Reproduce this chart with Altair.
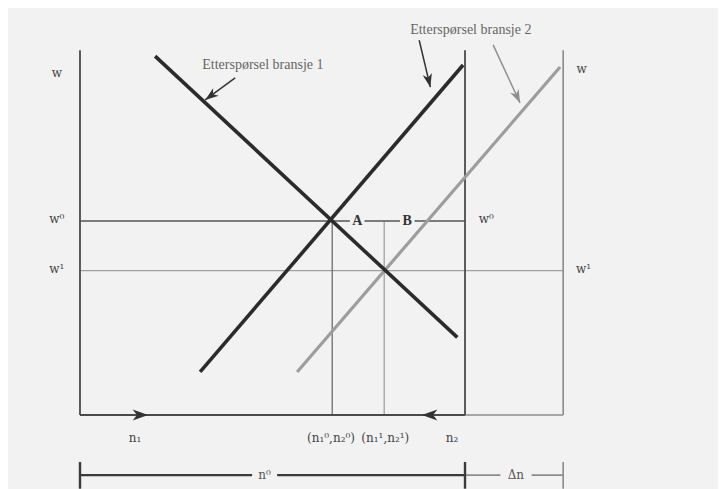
import math
import altair as alt
import pandas as pd

# ---- diagram values (n = employment, w = wage) ----
N0 = 100.0          # total labour n0 (middle vertical line)
N_RIGHT = 125.5     # n0 + delta n (right axis)
W_TOP = 94.0
W0 = 50.0
W1 = 37.2
N_EQ0 = 65.5        # (n1^0, n2^0)
N_EQ1 = 79.0        # (n1^1, n2^1)
BRACKET_W = -15.5

demand1_n = [19.5, 98.0]
demand1_w = [92.5, 20.0]
supply1_n = [31.2, 99.5]
supply1_w = [11.1, 90.2]
supply2_n = [56.4, 124.7]
supply2_w = [11.1, 89.7]

# label texts and positions
main_labels = ["w", "w⁰", "w¹", "w⁰", "w¹", "w", "n₁", "(n₁⁰,n₂⁰)", "(n₁¹,n₂¹)", "n₂"]
main_label_n = [-6.0, -6.0, -6.0, 105.5, 130.8, 130.3, 14.3, 65.2, 79.3, 96.6]
main_label_w = [88.2, 50.6, 37.6, 50.6, 37.6, 89.3, -5.9, -5.9, -5.9, -5.9]

point_labels = ["A", "B"]
point_label_n = [72.0, 85.0]
point_label_w = [W0, W0]

bracket_labels = ["n⁰", "Δn"]
bracket_label_n = [47.9, 113.2]
bracket_label_w = [BRACKET_W, BRACKET_W]

note_labels = ["Etterspørsel bransje 1", "Etterspørsel bransje 2"]
note_label_n = [47.5, 101.5]
note_label_w = [90.3, 99.3]

# annotation arrows: start -> end
arrow_n1 = [40.3, 88.1]
arrow_w1 = [86.9, 96.6]
arrow_n2 = [32.5, 91.0]
arrow_w2 = [81.2, 84.5]
garrow_n1 = [107.3]
garrow_w1 = [95.4]
garrow_n2 = [114.3]
garrow_w2 = [80.4]

# ---- scales ----
PX_N = 3.85
PX_W = 3.88
xs = alt.Scale(domain=[-18.70, 165.71], nice=False, zero=False)
ys = alt.Scale(domain=[-17.01, 104.90], nice=False, zero=False)


def seg(rows):
    return pd.DataFrame(rows, columns=["x1", "y1", "x2", "y2"])


def rules(df, color, width, opacity=1.0):
    return alt.Chart(df).mark_rule(color=color, strokeWidth=width, opacity=opacity).encode(
        x=alt.X("x1:Q", scale=xs, axis=None),
        y=alt.Y("y1:Q", scale=ys, axis=None),
        x2="x2:Q",
        y2="y2:Q",
    )


thick_dark = seg([
    [demand1_n[0], demand1_w[0], demand1_n[1], demand1_w[1]],
    [supply1_n[0], supply1_w[0], supply1_n[1], supply1_w[1]],
])
thick_gray = seg([[supply2_n[0], supply2_w[0], supply2_n[1], supply2_w[1]]])

axes_dark = seg([
    [0, 0, 0, W_TOP],
    [0, 0, N0, 0],
    [N0, 0, N0, W_TOP],
])
w0_lines = seg([
    [0, W0, 70.1, W0],
    [73.9, W0, 83.1, W0],
    [86.9, W0, N0, W0],
])
eq0_line = seg([[N_EQ0, 0, N_EQ0, W0]])
gray_axes = seg([
    [N_RIGHT, 0, N_RIGHT, W_TOP],
    [N0, 0, N_RIGHT, 0],
])
w1_line = seg([[0, W1, N_RIGHT, W1]])
eq1_line = seg([[N_EQ1, 0, N_EQ1, W0]])

bracket_dark = seg([
    [0, BRACKET_W, 44.7, BRACKET_W],
    [51.2, BRACKET_W, N0, BRACKET_W],
    [0, -12.1, 0, -19.0],
    [N0, -12.1, N0, -19.0],
])
bracket_gray = seg([
    [N0, BRACKET_W, 109.2, BRACKET_W],
    [117.3, BRACKET_W, N_RIGHT, BRACKET_W],
    [N_RIGHT, -12.1, N_RIGHT, -19.0],
])

arrow_lines = seg([[a, b, c, d] for a, b, c, d in zip(arrow_n1, arrow_w1, arrow_n2, arrow_w2)])
garrow_lines = seg([[a, b, c, d] for a, b, c, d in zip(garrow_n1, garrow_w1, garrow_n2, garrow_w2)])


def heads(n1, w1, n2, w2):
    ang = [
        (math.degrees(math.atan2((c - a) * PX_N, (d - b) * PX_W)) + 360) % 360
        for a, b, c, d in zip(n1, w1, n2, w2)
    ]
    return pd.DataFrame({"x": n2, "y": w2, "angle": ang})


BARB = "M0,0L-0.7,2L0,1.45L0.7,2Z"


def head_layer(df, color, size):
    return alt.Chart(df).mark_point(shape=BARB, filled=True, color=color, opacity=1, size=size).encode(
        x=alt.X("x:Q", scale=xs, axis=None),
        y=alt.Y("y:Q", scale=ys, axis=None),
        angle=alt.Angle("angle:Q", scale=None),
    )


flow_heads = pd.DataFrame({"x": [17.7, 88.8], "y": [0.0, 0.0], "angle": [90, 270]})


def text_layer(labels, ns, ws, size, color, weight="normal", font="Liberation Serif"):
    df = pd.DataFrame({"t": labels, "x": ns, "y": ws})
    return alt.Chart(df).mark_text(
        font=font, fontSize=size, color=color, fontWeight=weight, align="center", baseline="middle"
    ).encode(
        x=alt.X("x:Q", scale=xs, axis=None),
        y=alt.Y("y:Q", scale=ys, axis=None),
        text="t:N",
    )


chart = alt.layer(
    rules(w1_line, "#a0a0a0", 1.3),
    rules(eq1_line, "#8a8a8a", 1.0),
    rules(gray_axes, "#8c8c8c", 1.6),
    rules(bracket_gray, "#8c8c8c", 1.6),
    rules(w0_lines, "#555555", 1.6),
    rules(eq0_line, "#555555", 1.1),
    rules(axes_dark, "#4a4a4a", 1.8),
    rules(bracket_dark, "#3a3a3a", 2.4),
    rules(thick_gray, "#9d9d9d", 3.2),
    rules(thick_dark, "#2b2b2b", 3.6),
    rules(arrow_lines, "#333333", 1.5),
    rules(garrow_lines, "#8f8f8f", 1.5),
    head_layer(heads(arrow_n1, arrow_w1, arrow_n2, arrow_w2), "#333333", 180),
    head_layer(heads(garrow_n1, garrow_w1, garrow_n2, garrow_w2), "#8f8f8f", 180),
    head_layer(flow_heads, "#333333", 240),
    text_layer(main_labels, main_label_n, main_label_w, 12, "#444444", font="DejaVu Serif"),
    text_layer(point_labels, point_label_n, point_label_w, 14, "#333333", "bold"),
    text_layer(bracket_labels, bracket_label_n, bracket_label_w, 12, "#555555", font="DejaVu Serif"),
    text_layer(note_labels, note_label_n, note_label_w, 14, "#666666"),
).properties(
    width=710,
    height=473,
    padding=0,
    background="#f2f2f2",
).configure_view(stroke=None)

chart.save("out.html", embed_options={"renderer": "svg", "actions": False})
